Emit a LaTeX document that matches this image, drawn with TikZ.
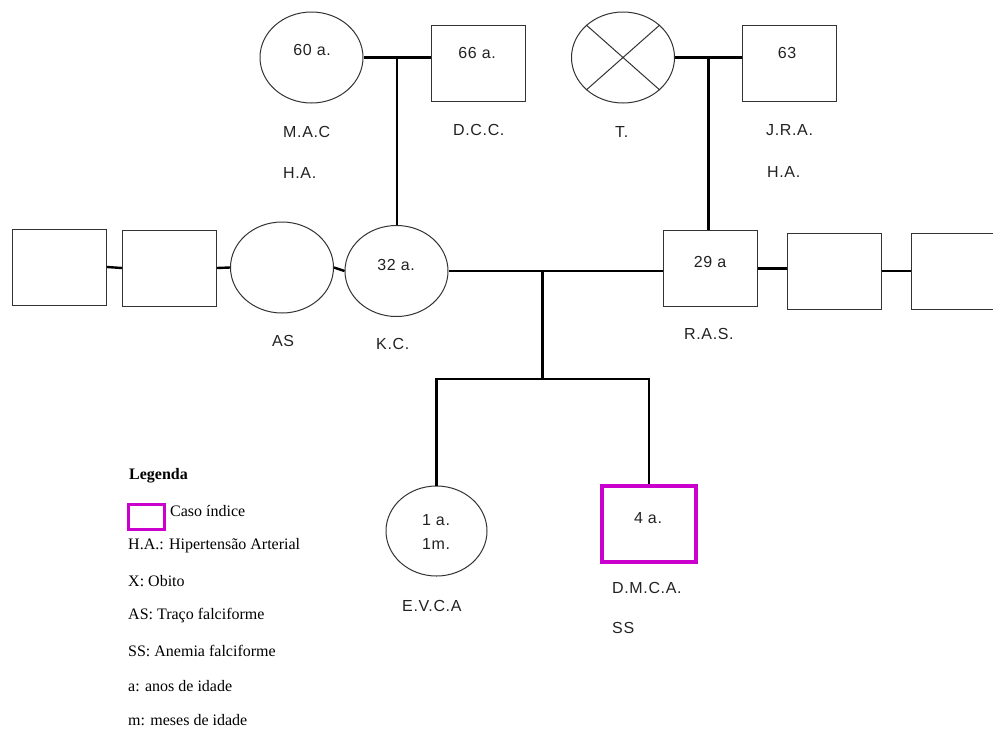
\documentclass[tikz,border=0pt]{standalone}
\usepackage{fontspec}
\setmainfont{Liberation Serif}
\setsansfont{Liberation Sans}
\newfontfamily\pedfont[LetterSpace=4]{Liberation Sans}
\usetikzlibrary{positioning,shapes.geometric,calc}
\definecolor{Outline}{HTML}{333333}
\definecolor{IndexMag}{HTML}{CC00CC}
\definecolor{Ink}{HTML}{222222}

\begin{document}
\begin{tikzpicture}[x=1pt, y=-1pt,
  fem/.style={ellipse, draw=Outline, line width=1pt, minimum width=103pt,
              minimum height=91pt, inner sep=0pt},
  male/.style={rectangle, draw=Outline, line width=1pt, minimum width=94pt,
               minimum height=76pt, inner sep=0pt},
  proband/.style={male, draw=IndexMag, line width=3.5pt},
  tie/.style={line width=2.4pt, draw=black},
  age/.style={font=\pedfont\fontsize{16}{19}\selectfont, text=Ink, inner sep=0pt},
  tag/.style={age, anchor=west},
  legtxt/.style={font=\rmfamily\fontsize{16}{19}\selectfont, inner sep=0pt, anchor=west}]
  \useasboundingbox (0,0) rectangle (993,729);

  % grandparents
  \node[fem] (mac) at (311.5,57.5) {};
  \node[male] (dcc) at (478,63) {};
  \node[fem] (t) at (623,57.5) {};
  \node[male] (jra) at (789.5,63) {};
  \draw[draw=Outline, line width=1pt] (t.north west) -- (t.south east) (t.north east) -- (t.south west);

  % parents row
  \node[male] (sqa) at (59.5,267) {};
  \node[male] (sqb) at (169.5,268) {};
  \node[fem] (as) at (282,267.5) {};
  \node[fem] (kc) at (396.5,271) {};
  \node[male] (ras) at (710,268.5) {};
  \node[male] (sqc) at (834,271) {};
  \node[male] (sqd) at (958,271) {};

  % children
  \node[fem, minimum width=101pt, minimum height=90pt] (evca) at (436.5,531) {};
  \node[proband] (dmca) at (649,524) {};

  % ages
  \node[age] (a-mac) at (312,50) {60 a.};
  \node[age] (a-dcc) at (477,53) {66 a.};
  \node[age] (a-jra) at (787,53) {63};
  \node[age] (a-kc) at (396,265) {32 a.};
  \node[age] (a-ras) at (710,262) {29 a};
  \node[age, align=center] (a-evca) at (436,532) {1 a.\\[5pt]1m.};
  \node[age] (a-dmca) at (648,518) {4 a.};

  % names
  \node[tag] (n-mac) at (283,132) {M.A.C};
  \node[tag] (h-mac) at (283,173) {H.A.};
  \node[tag] (n-dcc) at (453,130) {D.C.C.};
  \node[tag] (n-t) at (615,132) {T.};
  \node[tag] (n-jra) at (766,130) {J.R.A.};
  \node[tag] (h-jra) at (767,172) {H.A.};
  \node[tag] (n-as) at (272,341) {AS};
  \node[tag] (n-kc) at (376,344) {K.C.};
  \node[tag] (n-ras) at (684,334) {R.A.S.};
  \node[tag] (n-evca) at (402,606) {E.V.C.A};
  \node[tag] (n-dmca) at (612,588) {D.M.C.A.};
  \node[tag] (s-dmca) at (612,628) {SS};

  % marriages and descent
  \draw[tie] (mac.east) -- (mac.east -| dcc.west);
  \coordinate (m1) at ($(mac.east)!0.5!(mac.east -| dcc.west)$);
  \draw[tie] (m1) -- (m1 |- kc.north);
  \draw[tie] (t.east) -- (t.east -| jra.west);
  \coordinate (m2) at ($(t.east)!0.5!(t.east -| jra.west)$);
  \draw[tie] (m2) -- (m2 |- ras.north);

  \draw[tie] (sqa.east) -- (sqb.west);
  \draw[tie] (sqb.east) -- (as.west);
  \draw[tie] (as.east) -- (kc.west);
  \draw[tie] (kc.east) -- (kc.east -| ras.west);
  \draw[tie] (ras.east) -- (ras.east -| sqc.west);
  \draw[tie] (sqc.east) -- (sqd.west);

  \coordinate (c1) at ($(kc.east)!0.44!(kc.east -| ras.west)$);
  \coordinate (sib) at (c1 |- 0,379);
  \draw[tie] (c1) -- (sib);
  \draw[tie] (evca.north) -- (evca.north |- sib) -| (dmca.north);

  % legend
  \node[legtxt, font=\rmfamily\bfseries\fontsize{16}{19}\selectfont] (leg) at (129,476) {Legenda};
  \node[draw=IndexMag, line width=3pt, minimum width=36pt, minimum height=25pt, inner sep=0pt] (keybox) at (146.5,517) {};
  \node[legtxt] (k1) at (170,511) {Caso índice};
  \node[legtxt] (k2) at (128,546) {H.A.: Hipertensão Arterial};
  \node[legtxt] (k3) at (128,581) {X: Obito};
  \node[legtxt] (k4) at (128,616) {AS: Traço falciforme};
  \node[legtxt] (k5) at (128,651) {SS: Anemia falciforme};
  \node[legtxt] (k6) at (128,686) {a: anos de idade};
  \node[legtxt] (k7) at (128,720) {m: meses de idade};
\end{tikzpicture}
\end{document}
